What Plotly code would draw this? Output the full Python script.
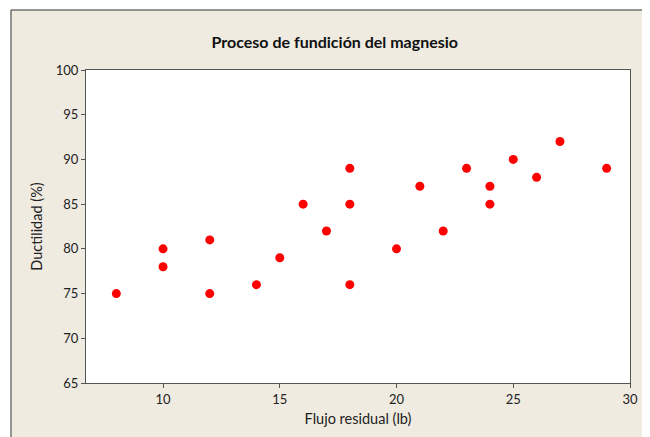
import plotly.graph_objects as go

flujo = [8, 10, 10, 12, 12, 14, 15, 16, 17, 18, 18, 18, 20, 21, 22, 23, 24, 24, 25, 26, 27, 29]
ductilidad = [75, 80, 78, 81, 75, 76, 79, 85, 82, 89, 85, 76, 80, 87, 82, 89, 87, 85, 90, 88, 92, 89]

x_ticks = [10, 15, 20, 25, 30]
y_ticks = [65, 70, 75, 80, 85, 90, 95, 100]

fig = go.Figure()
fig.add_trace(go.Scatter(
    x=flujo, y=ductilidad, mode='markers',
    marker=dict(color='#ff0000', size=9),
    showlegend=False
))

axis_style = dict(
    showgrid=False, zeroline=False,
    showline=True, linecolor='#555555', linewidth=1, mirror=True,
    ticks='outside', ticklen=4, tickcolor='#555555',
    tickfont=dict(size=13, color='#222222'),
    automargin=False,
)

fig.update_xaxes(range=[6.7, 30], tickvals=x_ticks, **axis_style,
                 title=dict(text='Flujo residual (lb)', font=dict(size=14.5, color='#222222'), standoff=8))
fig.update_yaxes(range=[65, 100], tickvals=y_ticks, **axis_style,
                 title=dict(text='Ductilidad (%)', font=dict(size=14.5, color='#222222'), standoff=9))

# frame edges in paper coords (plot area is 544x313 px)
fl = -0.1379
ft = 1.1917

# page body has an 8px margin, so the figure is offset by 8px
fig.update_layout(
    width=642, height=429,
    margin=dict(l=78, r=20, t=62, b=54),
    paper_bgcolor='#efebe1', plot_bgcolor='white',
    font=dict(family='Lato, Open Sans, sans-serif'),
    title=dict(text='<b>Proceso de fundición del magnesio</b>', x=0.509, xanchor='center',
               y=1 - 34 / 429, yanchor='middle', font=dict(size=16, color='#111111')),
    shapes=[
        dict(type='rect', xref='paper', yref='paper', x0=-0.3, x1=fl, y0=-0.3, y1=1.4,
             fillcolor='white', line=dict(width=0), layer='below'),
        dict(type='rect', xref='paper', yref='paper', x0=-0.3, x1=1.3, y0=ft, y1=1.4,
             fillcolor='white', line=dict(width=0), layer='below'),
        dict(type='line', xref='paper', yref='paper', x0=fl, x1=fl, y0=-0.3, y1=ft,
             line=dict(color='#333333', width=1)),
        dict(type='line', xref='paper', yref='paper', x0=fl, x1=1.3, y0=ft, y1=ft,
             line=dict(color='#333333', width=1)),
    ],
)

fig.write_html("out.html")
